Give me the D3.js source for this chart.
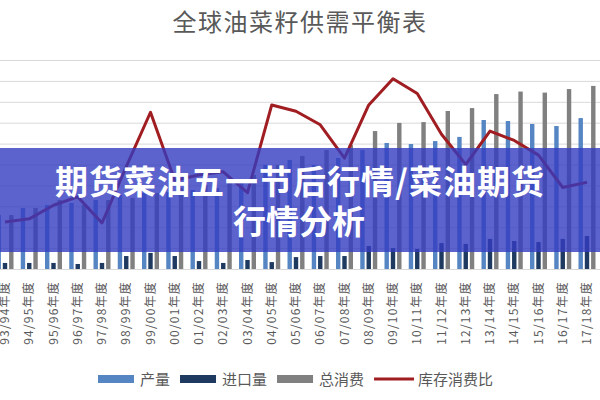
<!DOCTYPE html>
<html>
<head>
<meta charset="utf-8">
<script src="https://cdn.jsdelivr.net/npm/d3@7"></script>
<style>
  body { margin: 0; background: #fff; }
  svg { display: block; }
  text { font-family: "Noto Sans CJK SC", "Noto Sans", sans-serif; }
</style>
</head>
<body>
<div id="grafico"></div>
<script>
// Datos
const categorias = ["93/94年度", "94/95年度", "95/96年度", "96/97年度", "97/98年度", "98/99年度",
    "99/00年度", "00/01年度", "01/02年度", "02/03年度", "03/04年度", "04/05年度", "05/06年度",
    "06/07年度", "07/08年度", "08/09年度", "09/10年度", "10/11年度", "11/12年度", "12/13年度",
    "13/14年度", "14/15年度", "15/16年度", "16/17年度", "17/18年度"];
const produccion = [25.8, 29.2, 30.6, 31.6, 33.0, 35.4, 36.4, 36.8, 37.8, 38.8, 42.6, 49.8, 52.2,
    49.8, 53.1, 56.9, 60.3, 59.8, 61.2, 63.2, 71.3, 70.8, 69.4, 68.4, 72.2];
const importacion = [2.9, 2.9, 2.9, 2.4, 2.9, 6.2, 7.7, 6.2, 3.8, 2.9, 4.3, 3.3, 5.7, 6.2, 6.2,
    11.0, 10.0, 9.6, 12.4, 12.0, 14.4, 13.4, 12.9, 14.4, 15.8];
const consumo = [25.8, 29.2, 33.0, 30.6, 33.0, 34.0, 36.4, 38.8, 40.2, 41.6, 45.0, 49.8, 54.1,
    56.9, 59.3, 66.0, 69.9, 70.3, 75.6, 77.0, 83.7, 84.9, 84.4, 86.1, 87.6];
const ratioStock = [4.5, 4.8, 6.1, 6.9, 4.4, 9.8, 15.0, 8.5, 9.0, 9.3, 7.3, 15.7, 15.1, 13.8, 10.6,
    15.7, 18.2, 16.8, 12.9, 10.0, 13.2, 12.3, 10.9, 7.8, 8.3];
const series = ["产量", "进口量", "总消费"];
const colores = ["#5585c2", "#1f3a60", "#808080"];
const colorLinea = "#a01d22";

const width = 600;
const height = 400;

const svg = d3.select("#grafico")
    .append("svg")
    .attr("width", width)
    .attr("height", height);

// Escalas
const x = d3.scalePoint().domain(categorias).range([5, 587]);
const xSub = d3.scaleBand().domain(series).range([-8.5, 8.5]).paddingInner(0.3);
const y = d3.scaleLinear().domain([0, 100]).range([269, 60]);
const y2 = d3.scaleLinear().domain([0, 20]).range([269, 60]);

// Título
svg.append("text")
    .attr("x", 300)
    .attr("y", 31)
    .attr("text-anchor", "middle")
    .attr("fill", "#595959")
    .style("font-size", "24px")
    .style("letter-spacing", "1.5px")
    .text("全球油菜籽供需平衡表");

// Líneas de cuadrícula
svg.append("g")
    .call(d3.axisLeft(y).ticks(10).tickSize(-width).tickFormat(""))
    .call(g => g.select(".domain").remove())
    .call(g => g.selectAll(".tick line").attr("stroke", "#d9d9d9"));

// Barras
const valores = [produccion, importacion, consumo];
const grupos = svg.append("g")
    .selectAll("g")
    .data(categorias)
    .enter()
    .append("g")
    .attr("transform", d => `translate(${x(d)},0)`);

grupos.selectAll("rect")
    .data((d, i) => series.map((s, k) => ({ serie: s, valor: valores[k][i], k })))
    .enter()
    .append("rect")
    .attr("x", d => xSub(d.serie))
    .attr("width", xSub.bandwidth())
    .attr("y", d => y(d.valor))
    .attr("height", d => y(0) - y(d.valor))
    .attr("fill", d => colores[d.k]);

// Línea de ratio
const linea = d3.line()
    .x((d, i) => x(categorias[i]))
    .y(d => y2(d));

svg.append("path")
    .datum(ratioStock)
    .attr("d", linea)
    .attr("fill", "none")
    .attr("stroke", colorLinea)
    .attr("stroke-width", 3)
    .attr("stroke-linejoin", "round");

// Etiquetas del eje X
svg.append("g")
    .selectAll("text")
    .data(categorias)
    .enter()
    .append("text")
    .attr("transform", d => `translate(${x(d) + 4},281) rotate(-90)`)
    .attr("text-anchor", "end")
    .attr("fill", "#595959")
    .style("font-size", "12px")
    .style("letter-spacing", "1.2px")
    .text(d => d);

// Leyenda
const leyenda = svg.append("g").attr("transform", "translate(98,379)");
let posX = 0;
series.forEach((s, k) => {
    leyenda.append("rect")
        .attr("x", posX)
        .attr("y", -4)
        .attr("width", 36)
        .attr("height", 8)
        .attr("fill", colores[k]);
    const t = leyenda.append("text")
        .attr("x", posX + 42)
        .attr("y", 5.5)
        .attr("fill", "#595959")
        .style("font-size", "15px")
        .text(s);
    posX += 42 + t.node().getComputedTextLength() + 10;
});
leyenda.append("line")
    .attr("x1", posX).attr("x2", posX + 40)
    .attr("y1", 0).attr("y2", 0)
    .attr("stroke", colorLinea)
    .attr("stroke-width", 3);
leyenda.append("text")
    .attr("x", posX + 44)
    .attr("y", 5.5)
    .attr("fill", "#595959")
    .style("font-size", "15px")
    .text("库存消费比");

// Banda superpuesta con el titular
svg.append("rect")
    .attr("x", 0)
    .attr("y", 148)
    .attr("width", width)
    .attr("height", 104)
    .attr("fill", "rgba(52,60,192,0.8)");

const titular = svg.append("text")
    .attr("text-anchor", "middle")
    .attr("fill", "#fff")
    .style("font-size", "33px")
    .style("font-weight", "bold");
titular.append("tspan").attr("x", 300).attr("y", 194)
    .style("letter-spacing", "1px")
    .text("期货菜油五一节后行情/菜油期货");
titular.append("tspan").attr("x", 299).attr("y", 234).text("行情分析");
</script>
</body>
</html>
